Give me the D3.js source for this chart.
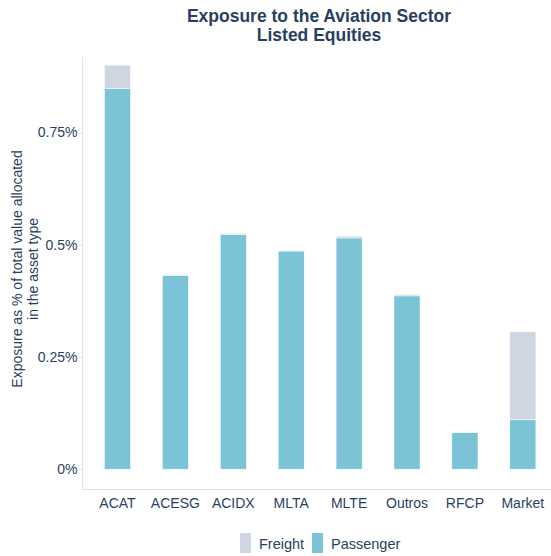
<!DOCTYPE html>
<html>
<head>
<meta charset="utf-8">
<script src="https://cdn.jsdelivr.net/npm/d3@7"></script>
<style>
  body { margin: 0; background: #fff; }
  svg text { font-family: "Liberation Sans", Arial, Helvetica, sans-serif; fill: #2a3f5f; }
</style>
</head>
<body>
<div id="vis"></div>
<script>
const categories = ["ACAT", "ACESG", "ACIDX", "MLTA", "MLTE", "Outros", "RFCP", "Market"]
const passenger = [0.848, 0.431, 0.523, 0.486, 0.515, 0.386, 0.0815, 0.110]
const freight = [0.052, 0.002, 0.002, 0.001, 0.004, 0.003, 0.0005, 0.196]
const seriesNames = ["Freight", "Passenger"]
const yTicks = [0, 0.25, 0.5, 0.75]
const yTickLabels = ["0%", "0.25%", "0.5%", "0.75%"]

const W = 551, H = 556
const colors = {Passenger: "#7bc4d7", Freight: "#d0d6e1"}

const svg = d3.select('#vis')
    .append('svg')
    .attr('width', W)
    .attr('height', H)

// y: 0 sits at 469.3, 0.75 at 132.3
const yScale = d3.scaleLinear()
    .domain([-0.0441, 0.918])
    .range([489, 57])

const xScale = d3.scaleBand()
    .domain(categories)
    .range([88.5, 551.8])
    .paddingInner(0.55)
    .paddingOuter(0.275)

// axis lines (L shape)
svg.append("line")
    .attr("x1", 82.5).attr("x2", 82.5)
    .attr("y1", yScale.range()[1]).attr("y2", 489.5)
    .attr("stroke", "#e2e2e2").attr("stroke-width", 1.2)
svg.append("line")
    .attr("x1", 82.5).attr("x2", W)
    .attr("y1", 489.5).attr("y2", 489.5)
    .attr("stroke", "#e2e2e2").attr("stroke-width", 1.2)

// y axis ticks
const yAxis = svg.append("g")
    .attr("class", "y-axis")
    .attr("transform", "translate(82.5,0)")
    .call(d3.axisLeft(yScale)
        .tickValues(yTicks)
        .tickSize(3)
        .tickPadding(2)
        .tickFormat((d, i) => yTickLabels[i]))
yAxis.select(".domain").remove()
yAxis.selectAll("line").attr("stroke", "#e2e2e2")
yAxis.selectAll("text").style("font-size", "14px").style("fill", "#2a3f5f")

// bars: passenger at bottom, freight stacked on top
const stackData = categories.map((c, i) => ({cat: c, Passenger: passenger[i], Freight: freight[i]}))
const stacked = d3.stack().keys(["Passenger", "Freight"])(stackData)

svg.selectAll(".layer")
    .data(stacked)
    .join("g")
    .attr("class", "layer")
    .attr("fill", d => colors[d.key])
    .selectAll("rect")
    .data(d => d)
    .join("rect")
    .attr("x", d => xScale(d.data.cat))
    .attr("width", xScale.bandwidth())
    .attr("y", d => yScale(d[1]))
    .attr("height", d => yScale(d[0]) - yScale(d[1]))
    .attr("stroke", "#ffffff")
    .attr("stroke-width", 0.5)

// x labels
const xAxis = svg.append("g")
    .attr("class", "x-axis")
    .attr("transform", "translate(0,489.5)")
    .call(d3.axisBottom(xScale).tickSize(0).tickPadding(9))
xAxis.select(".domain").remove()
xAxis.selectAll("text").style("font-size", "14px").style("fill", "#2a3f5f")

// title
const title = svg.append("text")
    .attr("x", 319)
    .attr("y", 22)
    .attr("text-anchor", "middle")
    .style("font-size", "17.5px")
    .style("font-weight", "bold")
title.append("tspan").attr("x", 319).text("Exposure to the Aviation Sector")
title.append("tspan").attr("x", 319).attr("dy", 19).text("Listed Equities")

// y axis title
const yTitle = svg.append("text")
    .attr("transform", "translate(22,269) rotate(-90)")
    .attr("text-anchor", "middle")
    .style("font-size", "14px")
yTitle.append("tspan").attr("x", 0).attr("y", 0).text("Exposure as % of total value allocated")
yTitle.append("tspan").attr("x", 0).attr("dy", 16).text("in the asset type")

// legend
const legendX = [240, 312]
const legend = svg.append("g").attr("class", "legend")
const row = legend.selectAll(".legend-row")
    .data(seriesNames)
    .join("g")
    .attr("class", "legend-row")
    .attr("transform", (d, i) => `translate(${legendX[i]}, 533)`)
row.append("rect")
    .attr("width", 11)
    .attr("height", 20)
    .attr("fill", d => colors[d])
row.append("text")
    .attr("x", 19)
    .attr("y", 15.5)
    .style("font-size", "14.5px")
    .text(d => d)
</script>
</body>
</html>
